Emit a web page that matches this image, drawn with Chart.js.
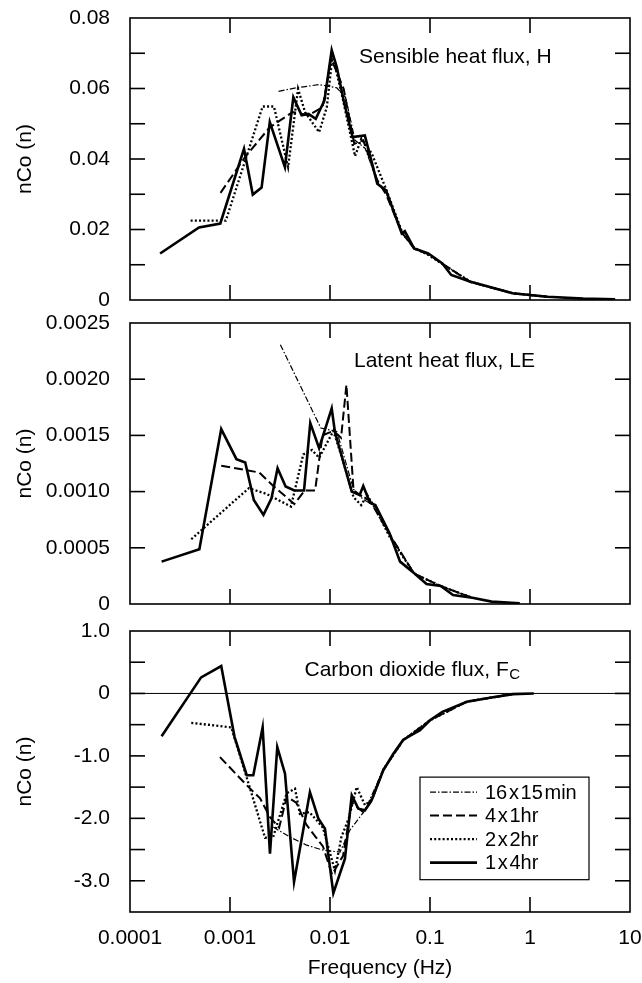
<!DOCTYPE html>
<html><head><meta charset="utf-8">
<script src="https://cdn.jsdelivr.net/npm/chart.js@4.4.1/dist/chart.umd.min.js"></script>
<style>
html,body{margin:0;padding:0;background:#fff;}
#wrap{position:relative;width:642px;height:983px;background:#fff;}
canvas{position:absolute;left:0;top:0;}
</style></head><body>
<div id="wrap">
<canvas id="c1" width="642" height="983"></canvas>
<canvas id="c2" width="642" height="983"></canvas>
<canvas id="c3" width="642" height="983"></canvas>
</div>
<script>
// ---------- shared axis ----------
const xTickVals = [0.0001, 0.001, 0.01, 0.1, 1, 10];
const xTickLabels = ['0.0001', '0.001', '0.01', '0.1', '1', '10'];
const seriesNames = ['16\u200Ax\u200A15\u200Amin', '4\u200Ax\u200A1hr', '2\u200Ax\u200A2hr', '1\u200Ax\u200A4hr'];

// ---------- Panel 1: Sensible heat flux, H ----------
const hF_16x15 = [0.00306,0.00459,0.00778,0.0117,0.0143,0.0178,0.0225,0.0297,0.0363,0.0522,0.0695,0.096,0.133,0.254,0.67,1.5,3.4,7.1];
const hV_16x15 = [0.0592,0.0602,0.0611,0.0602,0.0575,0.0453,0.0430,0.0335,0.0305,0.0190,0.0146,0.0131,0.0103,0.0052,0.0019,0.0009,0.0004,0.0002];
const hF_4x1 = [0.000804,0.00142,0.0025,0.00424,0.0061,0.00843,0.0103,0.0137,0.0175,0.0215,0.0297,0.0363,0.0522,0.0695,0.096,0.133,0.254,0.67,1.5];
const hV_4x1 = [0.0304,0.0406,0.0490,0.0533,0.0524,0.0547,0.0684,0.0599,0.0443,0.0453,0.0340,0.0300,0.0192,0.0145,0.0130,0.0103,0.0051,0.0019,0.0009];
const hF_2x2 = [0.000404,0.000908,0.00142,0.00212,0.00275,0.00381,0.00479,0.00563,0.00778,0.00929,0.0106,0.0132,0.0178,0.0206,0.0262,0.0363,0.0522,0.0695,0.096,0.133,0.254,0.67,1.5];
const hV_2x2 = [0.0225,0.0225,0.0396,0.0549,0.0549,0.0377,0.0599,0.0533,0.0476,0.0547,0.0693,0.0580,0.0408,0.0458,0.0415,0.0315,0.0195,0.0148,0.0128,0.0102,0.0052,0.0019,0.0009];
const hF_1x4 = [0.0002,0.00049,0.0008,0.00138,0.00169,0.00207,0.0025,0.00354,0.0043,0.0052,0.0061,0.0072,0.0088,0.0104,0.0117,0.0137,0.0168,0.0223,0.0297,0.0363,0.0522,0.056,0.0695,0.096,0.133,0.163,0.254,0.381,0.67,1.5,3.4,7.1];
const hV_1x4 = [0.0132,0.0206,0.0217,0.0429,0.0299,0.0319,0.0505,0.0377,0.0575,0.0524,0.0528,0.0514,0.0566,0.0709,0.066,0.0566,0.0462,0.0467,0.033,0.0311,0.0189,0.0195,0.0146,0.0132,0.0104,0.0071,0.0052,0.0038,0.0019,0.0009,0.0004,0.0002];

// ---------- Panel 2: Latent heat flux, LE ----------
const leF_16x15 = [0.00319,0.0081,0.0117,0.0172,0.0215,0.0284,0.0394,0.0695,0.128,0.265];
const leV_16x15 = [0.002307,0.001565,0.001535,0.00102,0.00093,0.00087,0.00062,0.00027,0.00016,0.000055];
const leF_4x1 = [0.000817,0.00196,0.00271,0.0044,0.0056,0.0071,0.0084,0.0108,0.0129,0.0146,0.0172,0.0215,0.0251,0.0394,0.0695,0.128,0.265];
const leV_4x1 = [0.00123,0.00117,0.00105,0.00089,0.00101,0.00101,0.0015,0.00154,0.00148,0.00195,0.00101,0.00095,0.00092,0.00062,0.00027,0.00016,0.000055];
const leF_2x2 = [0.00041,0.000804,0.00154,0.00231,0.00407,0.0054,0.0066,0.00778,0.0108,0.0132,0.0172,0.0205,0.0235,0.0284,0.0394,0.0695,0.128,0.265];
const leV_2x2 = [0.000576,0.000808,0.00103,0.00098,0.000867,0.00133,0.00137,0.0013,0.00154,0.0013,0.00095,0.00088,0.00097,0.00085,0.0006,0.00027,0.00016,0.000055];
const leF_1x4 = [0.000207,0.000494,0.000817,0.00116,0.00142,0.00173,0.00216,0.0026,0.00299,0.0036,0.0044,0.0055,0.00635,0.00778,0.0104,0.0112,0.0165,0.0198,0.0215,0.0251,0.0284,0.0394,0.0502,0.0695,0.0923,0.128,0.17,0.265,0.413,0.79];
const leV_1x4 = [0.000377,0.000487,0.001556,0.001289,0.001259,0.000926,0.000793,0.000941,0.001208,0.001045,0.00101,0.00101,0.00161,0.001387,0.00174,0.00153,0.001,0.00097,0.00105,0.0009,0.00088,0.000629,0.000377,0.000273,0.000178,0.00016,0.00008,0.000056,0.000021,0.000006];

// ---------- Panel 3: Carbon dioxide flux, Fc ----------
const fcF_16x15 = [0.00271,0.00398,0.00585,0.00857,0.0126,0.0158,0.0224,0.0341,0.054,0.1,0.234,0.672];
const fcV_16x15 = [-2.14,-2.3,-2.43,-2.51,-2.54,-2.19,-1.87,-1.22,-0.74,-0.43,-0.13,-0.01];
const fcF_4x1 = [0.000794,0.00147,0.002,0.00251,0.0031,0.0037,0.0046,0.0058,0.0072,0.0085,0.0105,0.0135,0.0165,0.0215,0.0261,0.0341,0.054,0.1,0.234,0.672];
const fcV_4x1 = [-1.02,-1.47,-1.68,-1.98,-2.15,-1.65,-1.75,-2.1,-2.3,-2.45,-2.9,-2.6,-1.75,-1.9,-1.72,-1.22,-0.75,-0.43,-0.13,-0.01];
const fcF_2x2 = [0.00041,0.00103,0.00147,0.00224,0.0027,0.00369,0.00447,0.005,0.0062,0.00735,0.0085,0.0112,0.013,0.0154,0.0185,0.0224,0.0261,0.0341,0.054,0.1,0.234,0.672];
const fcV_2x2 = [-0.47,-0.545,-1.35,-2.31,-2.3,-1.6,-1.525,-1.93,-1.9,-2.03,-2.15,-2.84,-2.3,-2.0,-1.5,-1.79,-1.7,-1.22,-0.75,-0.43,-0.13,-0.01];
const fcF_1x4 = [0.000207,0.000514,0.000817,0.00111,0.00147,0.00171,0.00212,0.00251,0.00297,0.00355,0.00437,0.0063,0.00764,0.0089,0.0108,0.0141,0.0165,0.0192,0.0224,0.0261,0.0341,0.043,0.054,0.0794,0.1,0.133,0.234,0.413,0.672,1.09];
const fcV_1x4 = [-0.684,0.257,0.439,-0.695,-1.31,-1.31,-0.545,-2.565,-0.859,-1.285,-3.02,-1.58,-2.0,-2.165,-3.2,-2.645,-1.632,-1.845,-1.87,-1.71,-1.23,-0.965,-0.741,-0.59,-0.43,-0.294,-0.134,-0.064,-0.011,0];

// ---------- styling ----------
const FONT = '"Liberation Sans", Arial, Helvetica, sans-serif';
Chart.defaults.font.family = FONT;
Chart.defaults.font.size = 21;
Chart.defaults.color = '#000';
Chart.defaults.animation = false;

const seriesStyles = [
  {borderWidth: 1.2, borderDash: [6, 2, 1.5, 2]},
  {borderWidth: 2.0, borderDash: [9, 4]},
  {borderWidth: 2.3, borderDash: [2, 2.2]},
  {borderWidth: 2.6, borderDash: []}
];

function pts(f, v) { return f.map((x, i) => ({x: x, y: v[i]})); }
function makeDatasets(list) {
  return list.map((p, i) => Object.assign({
    label: seriesNames[i], data: pts(p[0], p[1]),
    borderColor: '#000', backgroundColor: '#000', pointRadius: 0,
    fill: false, tension: 0, borderCapStyle: 'butt', borderJoinStyle: 'miter'
  }, seriesStyles[i]));
}

function seg(ctx, x1, y1, x2, y2) { ctx.beginPath(); ctx.moveTo(x1, y1); ctx.lineTo(x2, y2); ctx.stroke(); }

const deco = {
  id: 'deco',
  afterDraw(chart, args, o) {
    const ctx = chart.ctx, a = chart.chartArea, x = chart.scales.x, y = chart.scales.y;
    const W = a.right - a.left, H = a.bottom - a.top;
    ctx.save();
    ctx.strokeStyle = '#000';
    if (o.zeroLine) { ctx.lineWidth = 1; const yz = y.getPixelForValue(0); seg(ctx, a.left, yz, a.right, yz); }
    ctx.lineWidth = 1.6;
    ctx.strokeRect(a.left, a.top, W, H);
    const L = 15;
    xTickVals.forEach(v => {
      if (v <= 0.0001 || v >= 10) return;
      const px = x.getPixelForValue(v);
      seg(ctx, px, a.top, px, a.top + L);
      seg(ctx, px, a.bottom, px, a.bottom - L);
    });
    y.ticks.forEach(t => {
      const py = y.getPixelForValue(t.value);
      if (py <= a.top + 1 || py >= a.bottom - 1) return;
      seg(ctx, a.left, py, a.left + L, py);
      seg(ctx, a.right, py, a.right - L, py);
    });
    // panel caption
    ctx.fillStyle = '#000';
    ctx.font = '21px ' + FONT;
    ctx.textBaseline = 'middle';
    ctx.textAlign = 'left';
    const tx = a.left + o.lx * W, ty = a.top + o.ly * H;
    ctx.fillText(o.text, tx, ty);
    if (o.sub) {
      const w = ctx.measureText(o.text).width;
      ctx.font = '15px ' + FONT;
      ctx.fillText(o.sub, tx + w + 0.5, ty + 5);
    }
    // legend
    if (o.legend) {
      const g = o.legend;
      const bx = a.left + g.x0 * W, by = a.top + g.y0 * H;
      const bw = (g.x1 - g.x0) * W, bh = (g.y1 - g.y0) * H;
      ctx.lineWidth = 1.2;
      ctx.strokeRect(bx, by, bw, bh);
      chart.data.datasets.forEach((ds, i) => {
        const ry = by + g.row0 + i * g.step;
        ctx.lineWidth = ds.borderWidth;
        ctx.setLineDash(ds.borderDash || []);
        seg(ctx, bx + g.s0, ry, bx + g.s1, ry);
        ctx.setLineDash([]);
        ctx.font = '20px ' + FONT;
        ctx.textBaseline = 'middle';
        ctx.fillText(ds.label, bx + g.t0, ry + 1);
      });
    }
    ctx.restore();
  }
};

function makePanel(id, datasets, yCfg, showX, pad, decoOpts) {
  return new Chart(document.getElementById(id), {
    type: 'line',
    data: {datasets: datasets},
    options: {
      responsive: false,
      animation: false,
      layout: {padding: pad},
      plugins: {legend: {display: false}, tooltip: {enabled: false}, deco: decoOpts},
      scales: {
        x: {
          type: 'logarithmic', min: 0.0001, max: 10, display: showX,
          afterBuildTicks: s => { s.ticks = xTickVals.map(v => ({value: v})); },
          afterFit: s => { s.height = showX ? 71 : 0; s.paddingLeft = 0; s.paddingRight = 0; },
          grid: {display: false, drawTicks: false}, border: {display: false},
          ticks: {padding: 14, autoSkip: false, maxRotation: 0, callback: (v, i) => xTickLabels[i]},
          title: {display: true, text: 'Frequency (Hz)', padding: {top: 0, bottom: 2}}
        },
        y: {
          min: yCfg.min, max: yCfg.max,
          afterFit: s => { s.width = 130; s.paddingTop = 0; s.paddingBottom = 0; },
          grid: {display: false, drawTicks: false}, border: {display: false},
          ticks: {stepSize: yCfg.step, padding: 20, autoSkip: false, callback: yCfg.fmt},
          title: {display: true, text: 'nCo (n)', padding: {top: 13, bottom: 0}}
        }
      }
    },
    plugins: [deco]
  });
}

makePanel('c1',
  makeDatasets([[hF_16x15, hV_16x15], [hF_4x1, hV_4x1], [hF_2x2, hV_2x2], [hF_1x4, hV_1x4]]),
  {min: 0, max: 0.08, step: 0.01, fmt: v => { const r = Math.round(v * 100); if (r % 2 !== 0) return ''; return r === 0 ? '0' : (r / 100).toFixed(2); }},
  false, {left: 0, right: 12, top: 18, bottom: 683},
  {text: 'Sensible heat flux, H', lx: 0.458, ly: 0.139});

makePanel('c2',
  makeDatasets([[leF_16x15, leV_16x15], [leF_4x1, leV_4x1], [leF_2x2, leV_2x2], [leF_1x4, leV_1x4]]),
  {min: 0, max: 0.0025, step: 0.0005, fmt: v => { const r = Math.round(v * 10000); return r === 0 ? '0' : (r / 10000).toFixed(4); }},
  false, {left: 0, right: 12, top: 323, bottom: 379},
  {text: 'Latent heat flux, LE', lx: 0.448, ly: 0.137});

makePanel('c3',
  makeDatasets([[fcF_16x15, fcV_16x15], [fcF_4x1, fcV_4x1], [fcF_2x2, fcV_2x2], [fcF_1x4, fcV_1x4]]),
  {min: -3.5, max: 1.0, step: 0.5, fmt: v => { const r = Math.round(v * 10); if (r % 10 !== 0) return ''; return r === 0 ? '0' : (r / 10).toFixed(1); }},
  true, {left: 0, right: 12, top: 631, bottom: 0},
  {text: 'Carbon dioxide flux, F', sub: 'C', lx: 0.349, ly: 0.14, zeroLine: true,
   legend: {x0: 0.58, x1: 0.918, y0: 0.52, y1: 0.885, row0: 15, step: 23.5, s0: 10, s1: 57, t0: 65}});
</script>
</body></html>
